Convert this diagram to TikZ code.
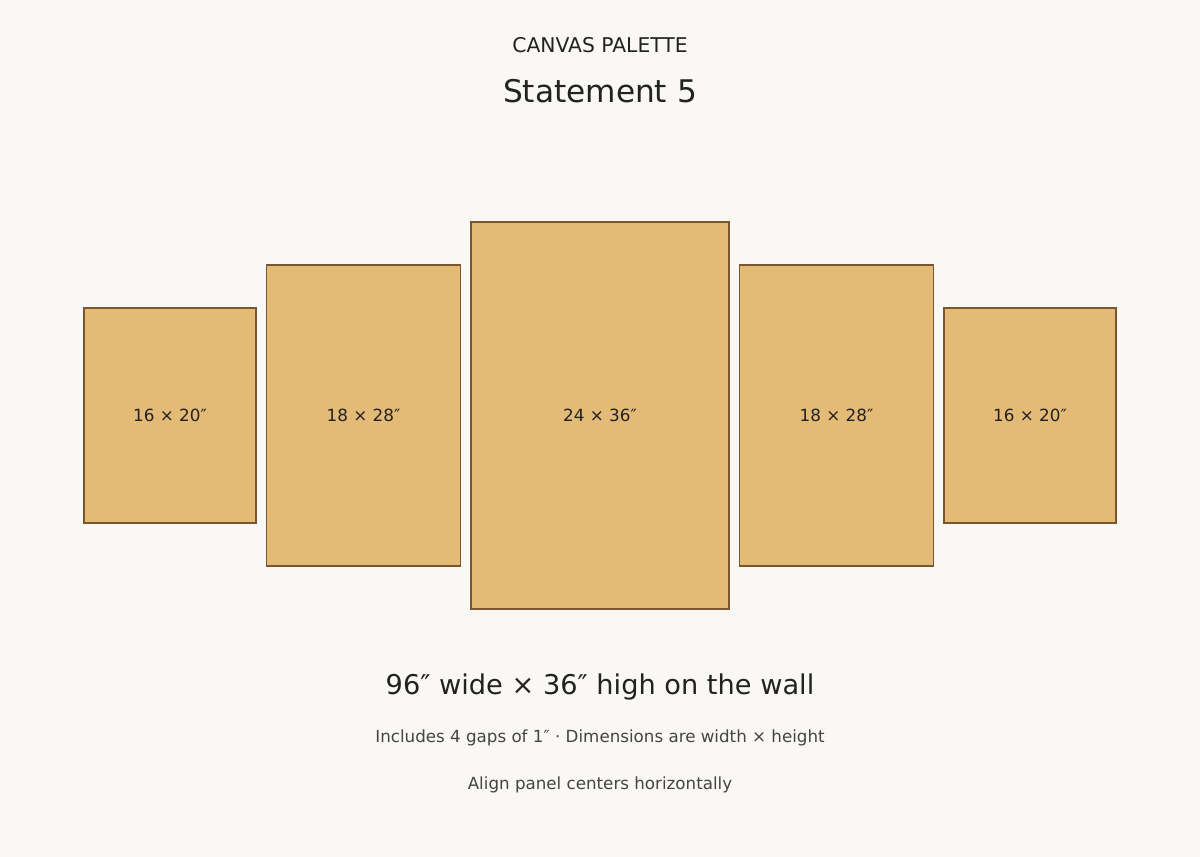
\documentclass[tikz,border=0pt]{standalone}
\usepackage{fontspec}
\setmainfont{DejaVu Sans}
\usetikzlibrary{positioning}

\definecolor{wallcol}{RGB}{249,248,245}
\definecolor{canvascol}{RGB}{228,187,118}
\definecolor{framecol}{RGB}{122,85,48}
\definecolor{inkcol}{RGB}{34,34,34}
\definecolor{notecol}{RGB}{68,68,68}

\newcommand{\sz}[1]{\fontsize{#1bp}{#1bp}\selectfont}

\begin{document}
\begin{tikzpicture}[x=1bp,y=-1bp,
  panel/.style={draw=framecol,fill=canvascol,line width=1.2bp,inner sep=0pt,outer sep=0pt,
    text=inkcol,font=\sz{16.8}},
  title/.style={anchor=base,inner sep=0pt,text=inkcol},
  note/.style={anchor=base,inner sep=0pt,text=notecol,font=\sz{16.7}}]
  \fill[wallcol] (0,0) rectangle (1200,857);
  \useasboundingbox (0,0) rectangle (1200,857);
%%
  % Titles
  \node[title,font=\sz{20.3}] (kicker) at (600,52) {CANVAS PALETTE};
  \node[title,font=\sz{31.2}] (name) at (600,102) {Statement 5};
  % Panels
  \node[panel,minimum width=258bp,minimum height=387bp] (mid) at (600,415.5) {24 × 36″};
  \node[panel,minimum width=193.5bp,minimum height=301bp,left=10.75bp of mid] (innerl) {18 × 28″};
  \node[panel,minimum width=193.5bp,minimum height=301bp,right=10.75bp of mid] (innerr) {18 × 28″};
  \node[panel,minimum width=172bp,minimum height=215bp,left=10.75bp of innerl] (outerl) {16 × 20″};
  \node[panel,minimum width=172bp,minimum height=215bp,right=10.75bp of innerr] (outerr) {16 × 20″};
  % Notes
  \node[title,font=\sz{27.2}] (total) at (600,694) {96″ wide × 36″ high on the wall};
  \node[note] (gaps) at (600,742) {Includes 4 gaps of 1″ · Dimensions are width × height};
  \node[note] (align) at (600,789) {Align panel centers horizontally};
%
\end{tikzpicture}
\end{document}
